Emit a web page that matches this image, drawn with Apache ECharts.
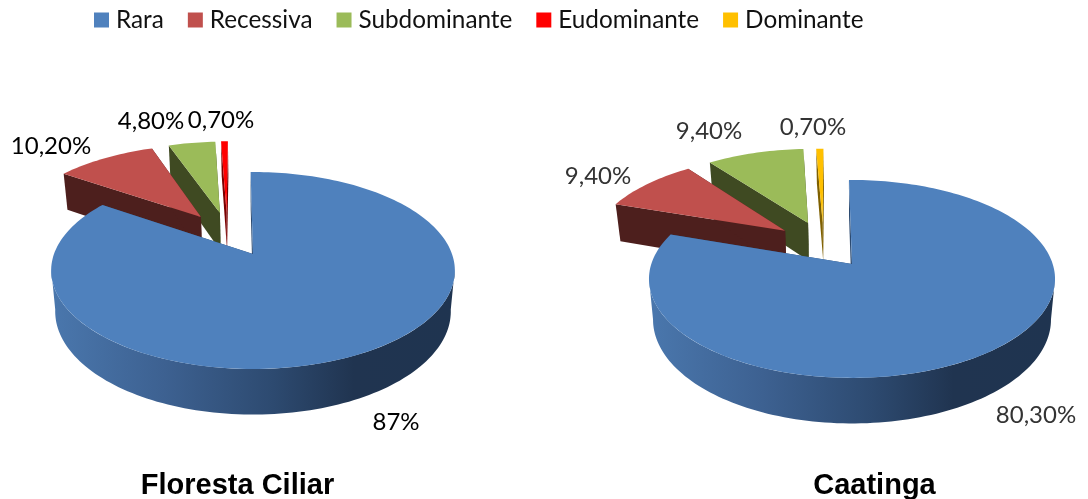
<!DOCTYPE html>
<html><head><meta charset="utf-8">
<style>html,body{margin:0;padding:0;background:#fff}#c{width:1088px;height:499px}</style>
<script src="https://cdn.jsdelivr.net/npm/echarts@6/dist/echarts.min.js"></script>
</head><body><div id="c"></div>
<script>
// ---- data (pie 0 = Floresta Ciliar, pie 1 = Caatinga) ----
const pieTitles = ['Floresta Ciliar', 'Caatinga'];
const categories = ['Rara', 'Recessiva', 'Subdominante', 'Eudominante', 'Dominante'];
const rara = [87, 80.3];
const recessiva = [10.2, 9.4];
const subdominante = [4.8, 9.4];
const eudominante = [0.7, 0];
const dominante = [0, 0.7];
const raraLabels = ['87%', '80,30%'];
const recessivaLabels = ['10,20%', '9,40%'];
const subdominanteLabels = ['4,80%', '9,40%'];
const eudominanteLabels = ['0,70%', ''];
const dominanteLabels = ['', '0,70%'];

// ---- styling / layout, kept apart from the data ----
const colors = ['#4F81BD', '#C0504D', '#9BBB59', '#FF0000', '#FFC000'];
const sideColors = ['#2c4a70', '#4d1f1d', '#3f4a22', '#7a0000', '#7f6000'];
const labelColors = ['#000000', '#333333'];
const FONT = 'Lato';
const discs = [
  {ax: 253, ay: 254, a: 199, b: 95.7, k: 0.1675, rot: -0.8},
  {ax: 852, ay: 264, a: 200.7, b: 96.7, k: 0.151, rot: -1}
];
const DEPTH = 40, DEPTH_SPREAD = 4.7, LOWER_SHRINK = 0.98;
const explodeRadius = [[0, 0.50, 0.495, 0.49, 0], [0, 0.505, 0.51, 0, 0.48]];
const explodeDir = [[0, -34, -21.2, -17, 0], [0, -44.1, -27.3, 0, -19]];
const labelAnchors = [
  [[396, 422], [1036, 415]],
  [[51, 146], [598, 176]],
  [[151, 121], [709, 131]],
  [[221, 120], null],
  [null, [813, 127]]
];

const seriesValues = [rara, recessiva, subdominante, eudominante, dominante];
const seriesLabels = [raraLabels, recessivaLabels, subdominanteLabels, eudominanteLabels, dominanteLabels];

function sliceRange(s, p) {
  const total = seriesValues.reduce((t, arr) => t + arr[p], 0);
  let before = 0;
  for (let i = 0; i < s; i++) before += seriesValues[i][p];
  const r = discs[p].rot;
  return [before / total * 360 + r, (before + seriesValues[s][p]) / total * 360 + r];
}
function projector(s, p) {
  const d = discs[p], rad = explodeDir[p][s] * Math.PI / 180, e = explodeRadius[p][s];
  const ou = e * Math.sin(rad), ov = e * Math.cos(rad);
  return function (u, v, lower) {
    const U = u + ou, V = v + ov, w = 1 + d.k * V;
    return lower
      ? [d.ax + d.a * LOWER_SHRINK * U / w, d.ay + DEPTH - (d.b + DEPTH_SPREAD) * V / w]
      : [d.ax + d.a * U / w, d.ay - d.b * V / w];
  };
}
function arc(proj, a0, a1, lower) {
  const n = Math.max(4, Math.ceil((a1 - a0) / 1.5)), pts = [];
  for (let i = 0; i <= n; i++) {
    const t = (a0 + (a1 - a0) * i / n) * Math.PI / 180;
    pts.push(proj(Math.sin(t), Math.cos(t), lower));
  }
  return pts;
}
function makeRenderItem(s) {
  return function (params, api) {
    const p = api.value(0), val = api.value(1);
    if (!val) return null;
    const [a0, a1] = sliceRange(s, p);
    const proj = projector(s, p);
    const children = [];
    const side = sideColors[s];
    const poly = (points, fill) => children.push({type: 'polygon', shape: {points}, style: {fill, stroke: null}});
    [a0, a1].forEach(function (ang) {
      const t = ang * Math.PI / 180, u = Math.sin(t), v = Math.cos(t);
      poly([proj(0, 0, false), proj(u, v, false), proj(u, v, true), proj(0, 0, true)], side);
    });
    // rim wall: between the two widest points of the disc, the part that faces the viewer
    const r0 = Math.max(a0, 98.6), r1 = Math.min(a1, 261.4);
    if (r1 > r0) {
      const upper = arc(proj, r0, r1, false), lower = arc(proj, r0, r1, true).reverse();
      poly(upper.concat(lower), s === 0
        ? new echarts.graphic.LinearGradient(0, 0, 1, 0, [
            {offset: 0, color: '#4a77ad'}, {offset: 0.28, color: '#3d6191'},
            {offset: 0.55, color: '#2d4a70'}, {offset: 0.75, color: '#203450'},
            {offset: 1, color: '#1f3450'}])
        : side);
    }
    poly([proj(0, 0, false)].concat(arc(proj, a0, a1, false)), colors[s]);
    const anchor = labelAnchors[s][p];
    if (anchor) children.push({type: 'text', style: {
      x: anchor[0], y: anchor[1], text: seriesLabels[s][p], fill: labelColors[p],
      font: '24px ' + FONT, textAlign: 'center', textVerticalAlign: 'middle'}});
    return {type: 'group', children};
  };
}

const chart = echarts.init(document.getElementById('c'), null, {renderer: 'canvas'});
chart.setOption({
  backgroundColor: '#ffffff',
  animation: false,
  legend: {
    data: categories, left: 89, top: 3, icon: 'rect',
    itemWidth: 15, itemHeight: 15, itemGap: 24,
    textStyle: {fontFamily: FONT, fontSize: 24.3, color: '#111', padding: [0, 0, 0, 2]}
  },
  title: pieTitles.map((t, i) => ({
    text: t, left: [232.5, 869.5][i], top: 466, textAlign: 'center',
    textStyle: {fontFamily: 'Liberation Sans', fontWeight: 'bold', fontSize: 29, color: '#000'}
  })),
  series: categories.map((name, s) => ({
    type: 'custom', name, coordinateSystem: 'none', silent: true,
    z: 10 - s, itemStyle: {color: colors[s]},
    renderItem: makeRenderItem(s),
    data: seriesValues[s].map((v, p) => [p, v])
  }))
});
</script></body></html>
